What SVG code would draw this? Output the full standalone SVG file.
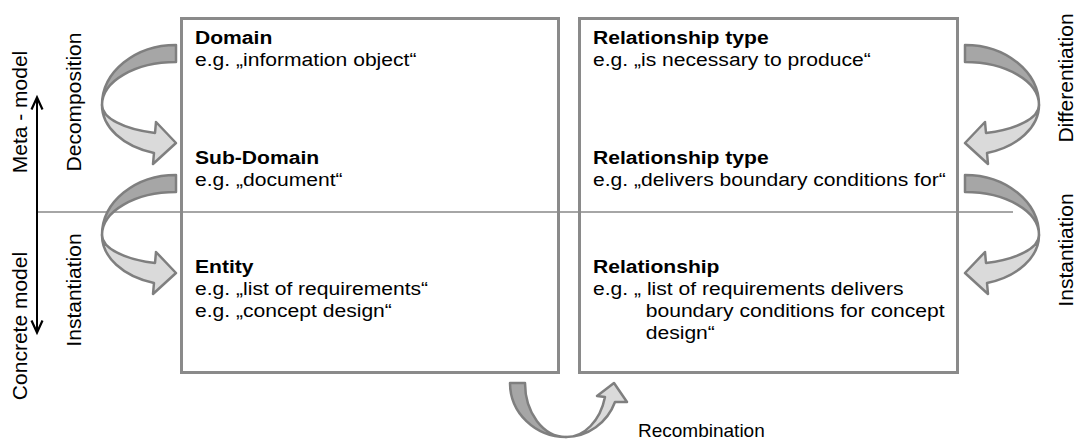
<svg xmlns="http://www.w3.org/2000/svg" xmlns:xlink="http://www.w3.org/1999/xlink" width="1079" height="441" viewBox="0 0 1079 441">
<style>
  .t { font-family: "Liberation Sans", Arial, sans-serif; font-size: 19px; fill: #000; }
  .b { font-weight: bold; }
  .r { font-family: "Liberation Sans", Arial, sans-serif; font-size: 21px; fill: #000; text-anchor: middle; }
  .box { fill: none; stroke: #8a8a8a; stroke-width: 3; }
  .dark { fill: #a6a6a6; stroke: #7f7f7f; stroke-width: 2.5; stroke-linejoin: round; }
  .light { fill: #dadada; stroke: #7f7f7f; stroke-width: 2.5; stroke-linejoin: round; }
</style>
<defs>
  <g id="curveL">
    <path class="dark" d="M176,45 L176,62 A74,43 0 0 0 102,105 A74,60 0 0 1 176,45 Z"/>
    <path class="light" d="M102,105 A74,50 0 0 0 154,153 L153,164 L176,143 L156,122 L155,133 A74,29.2 0 0 1 102,105 Z"/>
  </g>
</defs>
<rect width="1079" height="441" fill="#fff"/>
<line x1="37" y1="212" x2="1013" y2="212" stroke="#a6a6a6" stroke-width="2"/>
<g id="box-left">
  <rect class="box" x="181.5" y="18.5" width="377" height="354"/>
  <g transform="translate(195 0) scale(1.11 1)">
    <text class="t b" x="0" y="44">Domain</text>
    <text class="t" x="0" y="66">e.g. „information object“</text>
    <text class="t b" x="0" y="164">Sub-Domain</text>
    <text class="t" x="0" y="186">e.g. „document“</text>
    <text class="t b" x="0" y="273">Entity</text>
    <text class="t" x="0" y="295">e.g. „list of requirements“</text>
    <text class="t" x="0" y="317">e.g. „concept design“</text>
  </g>
</g>
<g id="box-right">
  <rect class="box" x="579.5" y="18.5" width="378" height="354"/>
  <g transform="translate(593 0) scale(1.11 1)">
    <text class="t b" x="0" y="44">Relationship type</text>
    <text class="t" x="0" y="66">e.g. „is necessary to produce“</text>
    <text class="t b" x="0" y="164">Relationship type</text>
    <text class="t" x="0" y="186">e.g. „delivers boundary conditions for“</text>
    <text class="t b" x="0" y="273">Relationship</text>
    <text class="t" x="0" y="295">e.g. „ list of requirements delivers</text>
    <text class="t" x="47.5" y="317">boundary conditions for concept</text>
    <text class="t" x="47.5" y="339">design“</text>
  </g>
</g>
<g id="axis">
  <line x1="37" y1="98" x2="37" y2="332" stroke="#000" stroke-width="2"/>
  <polyline points="31.5,109.5 37,97.5 42.5,109.5" fill="none" stroke="#000" stroke-width="2.2"/>
  <polyline points="31.5,320.5 37,332.5 42.5,320.5" fill="none" stroke="#000" stroke-width="2.2"/>
  <text class="r" transform="translate(27 112) rotate(-90)">Meta - model</text>
  <text class="r" transform="translate(27 326) rotate(-90)">Concrete model</text>
</g>
<g id="connectors">
  <use xlink:href="#curveL"/>
  <use xlink:href="#curveL" transform="translate(0 130)"/>
  <use xlink:href="#curveL" transform="translate(1141 0) scale(-1 1)"/>
  <use xlink:href="#curveL" transform="translate(1141 130) scale(-1 1)"/>
  <g id="recombination-arrow">
    <path class="dark" d="M510,383 L525,383 A41,54 0 0 0 566,437 A56,54 0 0 1 510,383 Z"/>
    <path class="light" d="M566,437 A53,54 0 0 0 615,402 L627,402 L614,383 L597,396 L605,397 A40,54 0 0 1 566,437 Z"/>
  </g>
</g>
<g id="labels">
  <text class="r" transform="translate(81 102) rotate(-90)">Decomposition</text>
  <text class="r" transform="translate(81 290) rotate(-90)">Instantiation</text>
  <text class="r" transform="translate(1073 78) rotate(-90)">Differentiation</text>
  <text class="r" transform="translate(1073 250) rotate(-90)">Instantiation</text>
  <text class="t" x="638" y="437">Recombination</text>
</g>
</svg>
